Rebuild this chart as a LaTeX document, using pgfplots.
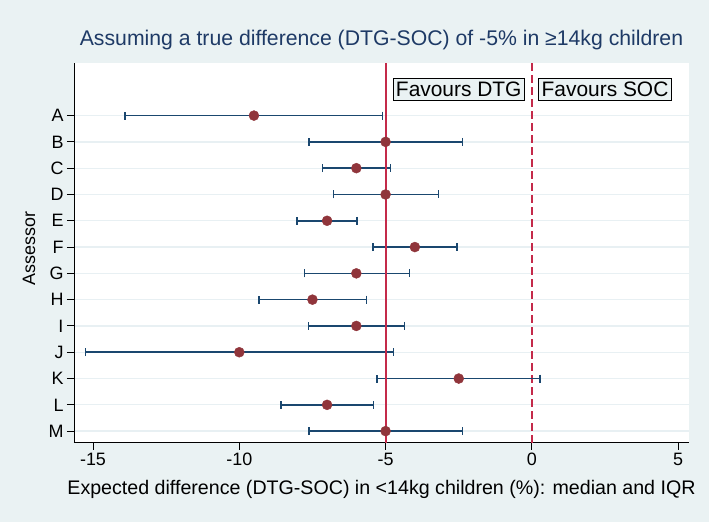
\documentclass[border=0pt]{standalone}
\usepackage{fontspec}
\setmainfont{Liberation Sans}
\usepackage{pgfplots}
\usepackage{pgfplotstable}
\pgfplotsset{compat=1.18}
\definecolor{bg}{HTML}{EAF2F3}
\definecolor{snavy}{HTML}{1A476F}
\definecolor{smaroon}{HTML}{90353B}
\definecolor{sred}{HTML}{C42A4A}
\definecolor{sgrid}{HTML}{E8F0F3}
\definecolor{stitle}{HTML}{1E3A66}

\pgfplotstableread{
y  med   lo     hi
13 -9.5  -13.9  -5.1
12 -5    -7.62  -2.37
11 -6    -7.15  -4.83
10 -5    -6.78  -3.2
9  -7    -8.02  -5.97
8  -4    -5.43  -2.56
7  -6    -7.78  -4.19
6  -7.5  -9.33  -5.66
5  -6    -7.63  -4.35
4  -10   -15.25 -4.73
3  -2.5  -5.3   0.28
2  -7    -8.58  -5.41
1  -5    -7.62  -2.37
}\data

\pgfplotstableread{
x   y
-5  0.56
-5  15
}\solidline
\pgfplotstableread{
x   y
0  0.56
0  15
}\dashline

\begin{document}
\begin{tikzpicture}[x=1bp,y=1bp]
\fill[bg] (-74,-79.3) rectangle (635,442.7);
\begin{axis}[at={(0,0)}, anchor=south west, scale only axis,
  width=615bp, height=379.7bp,
  xmin=-15.65, xmax=5.37, ymin=0.56, ymax=15,
  axis lines*=left, axis line style={black, line width=0.9bp},
  axis background/.style={fill=white},
  xtick={-15,-10,-5,0,5}, ytick={1,...,13},
  yticklabels={M,L,K,J,I,H,G,F,E,D,C,B,A},
  tick align=outside, major tick length=7bp,
  tick style={black, line width=0.9bp},
  ymajorgrids, grid style={sgrid, line width=1.3bp},
  ticklabel style={font=\fontsize{18}{20}\selectfont},
  /pgf/number format/assume math mode=true,
  xlabel={Expected difference (DTG-SOC) in <14kg children (\%): median and IQR},
  ylabel={Assessor},
  xlabel style={at={(axis description cs:0.5,-0.1377)}, anchor=base, font=\fontsize{19.7}{22}\selectfont},
  ylabel style={at={(axis description cs:-0.0634,0.512)}, anchor=base, font=\fontsize{18}{20}\selectfont},
  title={Assuming a true difference (DTG-SOC) of -5\% in ≥14kg children},
  title style={at={(axis description cs:0.5,1.0316)}, anchor=base, text=stitle, font=\fontsize{21.3}{24}\selectfont},
  clip=false,
]
\addplot[draw=sred, line width=1.6bp, mark=none, dash pattern=on 8bp off 4bp, forget plot] table[x=x, y=y] {\dashline};
\addplot[only marks, mark=none, forget plot,
  error bars/.cd, x dir=both, x explicit, error mark=|,
  error bar style={snavy, line width=1.6bp},
  error mark options={snavy, line width=1.5bp, mark size=4bp}]
  table[x=med, y=y,
    x error plus expr=\thisrow{hi}-\thisrow{med},
    x error minus expr=\thisrow{med}-\thisrow{lo}] {\data};
\addplot[draw=sred, line width=1.8bp, mark=none, solid, forget plot] table[x=x, y=y] {\solidline};
\addplot[only marks, mark=*, mark size=5bp, mark options={fill=smaroon, draw=smaroon}]
  table[x=med, y=y] {\data};
\node[draw=black, fill=bg, line width=0.9bp, inner xsep=3bp, inner ysep=3.3bp, text height=15bp, text depth=0pt, font=\fontsize{21}{24}\selectfont] at (axis cs:-2.5,14) {Favours DTG};
\node[draw=black, fill=bg, line width=0.9bp, inner xsep=3bp, inner ysep=3.3bp, text height=15bp, text depth=0pt, font=\fontsize{21}{24}\selectfont] at (axis cs:2.5,14) {Favours SOC};
\end{axis}
\end{tikzpicture}
\end{document}
